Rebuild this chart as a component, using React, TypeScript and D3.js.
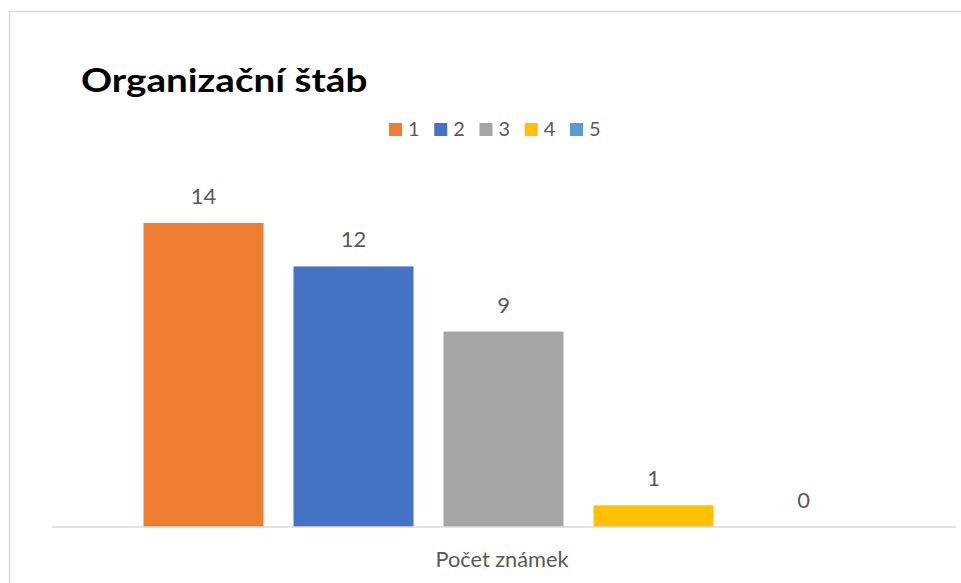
import React from "react";
import * as d3 from "d3";

const title = "Organizační štáb";
const category = "Počet známek";
const seriesNames = ["1", "2", "3", "4", "5"];
const seriesValues = [14, 12, 9, 1, 0];
const seriesColors = ["#ED7D31", "#4472C4", "#A5A5A5", "#FFC000", "#5B9BD5"];

const W = 961;
const H = 583;
const FONT = "Lato, Carlito, Calibri, 'Open Sans', sans-serif";

function SText(props: {
  x: number;
  y: number;
  sx: number;
  size: number;
  anchor?: string;
  weight?: string;
  fill: string;
  children: React.ReactNode;
}) {
  return (
    <text
      transform={`translate(${props.x},${props.y}) scale(${props.sx},1)`}
      textAnchor={props.anchor || "start"}
      fontFamily={FONT}
      fontSize={props.size}
      fontWeight={props.weight || "normal"}
      fill={props.fill}
    >
      {props.children}
    </text>
  );
}

export default function App() {
  const baseline = 527;
  const x = d3
    .scaleBand<string>()
    .domain(seriesNames)
    .range([128.5, 878.5])
    .paddingInner(0.2)
    .paddingOuter(0.1);
  const y = d3.scaleLinear().domain([0, 14]).range([baseline, 223]);

  const legendX = d3.scalePoint<string>().domain(seriesNames).range([389, 570]);

  return (
    <svg
      width={W}
      height={H}
      style={{ position: "absolute", left: 0, top: 0, background: "#fff" }}
    >
      <rect x={9.5} y={11.5} width={W} height={H} fill="#fff" stroke="#d9d9d9" strokeWidth={1.5} />
      <SText x={81} y={92} sx={1.17} size={33} weight="bold" fill="#000">
        {title}
      </SText>
      {seriesNames.map((s, i) => (
        <g key={"lg" + s}>
          <rect x={legendX(s)!} y={123} width={13} height={13} fill={seriesColors[i]} />
          <SText x={legendX(s)! + 19} y={136} sx={1.05} size={19} fill="#595959">
            {s}
          </SText>
        </g>
      ))}
      {seriesNames.map((s, i) => {
        const v = seriesValues[i];
        const top = y(v);
        return (
          <g key={"b" + s}>
            {v > 0 && (
              <rect
                x={x(s)!}
                y={top}
                width={x.bandwidth()}
                height={baseline - top}
                fill={seriesColors[i]}
              />
            )}
            <SText
              x={x(s)! + x.bandwidth() / 2}
              y={top - 19}
              sx={1.0}
              anchor="middle"
              size={22}
              fill="#595959"
            >
              {v}
            </SText>
          </g>
        );
      })}
      <line x1={52} x2={956} y1={baseline} y2={baseline} stroke="#d9d9d9" strokeWidth={1.5} />
      <SText x={502} y={567} sx={0.99} anchor="middle" size={22} fill="#595959">
        {category}
      </SText>
    </svg>
  );
}
